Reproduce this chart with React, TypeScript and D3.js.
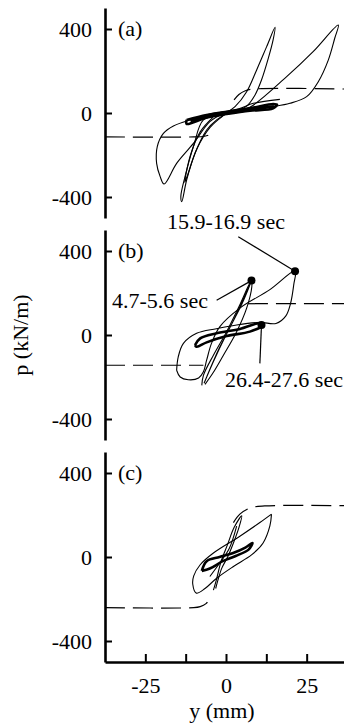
import React, { useRef, useEffect } from 'react';
import * as d3 from 'd3';

type Pt = [number, number];

const xTicks = [-25, -12.5, 0, 12.5, 25];
const yTicks = [-400, 0, 400];
const panelNames = ['(a)', '(b)', '(c)'];

// panel (a)  [y mm, p kN/m]
const aDashLow: Pt[] = [[-37.5, -114], [-10, -114], [-7, -112], [-5.5, -106]];
const aDashUp: Pt[] = [[2.5, 62], [4, 88], [6, 106], [8.5, 114], [37.5, 114]];
const aLoopLeft: Pt[] = [
  [-0.8, -2], [-6, -12], [-11.1, -33], [-16.3, -62], [-19.4, -97], [-21.3, -160], [-21.5, -240],
  [-20.4, -303], [-19.2, -338], [-15.3, -240], [-10.1, -145], [-5, -41], [-0.8, -2],
];
const aLoopLow: Pt[] = [
  [-2, -10], [-7, -33], [-10.1, -160], [-12.7, -303], [-14, -398], [-13.7, -422],
  [-12.2, -319], [-9.6, -192], [-6, -81], [-2.9, -33], [0, -5],
];
const aLoopLow2: Pt[] = [
  [-4, -20], [-8, -90], [-11, -200], [-12.8, -330], [-12, -300], [-9, -170], [-5, -70], [-1, -15],
];
const aLoopUp: Pt[] = [
  [0, 0], [2.8, 30], [6.4, 101], [9.5, 205], [12.6, 316], [15.2, 408],
  [14.6, 348], [13.1, 260], [11, 157], [9, 86], [6.4, 33], [3, 10],
];
const aLoopRight: Pt[] = [
  [4, 12], [7.4, 27], [18.8, 173], [27, 292], [34.8, 419], [33.7, 356], [31.7, 252],
  [28.6, 149], [25, 78], [19.8, 46], [15.7, 33],
];
const aBand: Pt[] = [
  [-12.2, -33], [-6, -10], [0.2, 6], [7.4, 22], [14.6, 43], [15.8, 40], [14.6, 22],
  [7.4, 11], [0.2, -5], [-6, -21], [-12.2, -52], [-12.2, -33],
];
const aBand2: Pt[] = [
  [-11, -38], [-5, -16], [1, 0], [8, 16], [15, 32], [8, 22], [1, 4], [-5, -8], [-11, -38],
];
const aSpur: Pt[] = [[-2, 2], [4, 20], [8.5, 46], [16.7, 65]];

// panel (b)
const bDashLow: Pt[] = [[-37.5, -144], [-7, -144]];
const bDashUp: Pt[] = [[6.8, 149], [37.5, 149]];
const bOuter: Pt[] = [
  [-15.3, -168], [-14.2, -200], [-11.7, -213], [-8.5, -205], [-7, -175], [-6, -120], [-4.5, -40],
  [-1.9, 40], [4.3, 128], [13.6, 216], [21.4, 304], [21, 240], [20, 150], [18.5, 90], [15.5, 55],
  [10.5, 60], [3.3, 48], [-3, 30], [-9.1, 8], [-13.2, -40], [-14.8, -104], [-15.3, -168],
];
const bLoopMid: Pt[] = [
  [-7.5, -240], [-7, -192], [-3.9, -96], [0.2, 16], [4.3, 144], [7.9, 259], [8, 230],
  [6.4, 128], [3.3, 16], [-0.8, -96], [-4, -180], [-6.5, -235],
];
const bLoopMid2: Pt[] = [
  [-6, -200], [-2, -60], [2, 60], [7.9, 259], [5, 150], [0, 0], [-4, -130], [-6.8, -230],
];
const bThick: Pt[] = [
  [-9.6, -48], [-8, -16], [-2.9, 8], [4.3, 29], [10.5, 56], [11.3, 45], [7.4, 16],
  [0.2, -5], [-6, -35], [-9.1, -56], [-9.6, -48],
];
const bDots: Pt[] = [[21.4, 304], [7.9, 259], [11, 48]];

// panel (c)
const cDashLow: Pt[] = [[-37.5, -241], [-10, -241], [-8, -236], [-6.2, -222], [-5, -198]];
const cDashUp: Pt[] = [[2.3, 164], [4.3, 204], [7.4, 233], [12, 243], [37.5, 244]];
const cOuter: Pt[] = [
  [14.1, 204], [13.6, 148], [11.5, 67], [8, 11], [2.3, -45], [-2.9, -101], [-6.5, -150],
  [-9.2, -172], [-10.3, -130], [-10, -90], [-8, -37], [-3.9, 19], [4.3, 99], [10.5, 164], [14.1, 204],
];
const cThick: Pt[] = [
  [-7.5, -66], [-6, -20], [-2, 0], [2, 18], [6, 45], [8.2, 67], [7, 35], [3, 5],
  [-1, -20], [-5, -55], [-7.5, -66],
];
const cCross: Pt[] = [
  [-3.9, -158], [-3, -110], [-1.5, -20], [0.5, 60], [2.5, 140], [4.9, 196], [4, 140],
  [2.3, 67], [0.5, 0], [-1.3, -53], [-2.5, -110], [-3.2, -150],
];
const cDiag: Pt[] = [[-5, -93], [-2, -30], [1, 40], [3.3, 147]];

const annoText = ['15.9-16.9 sec', '4.7-5.6 sec', '26.4-27.6 sec'];
const annoAt: Pt[] = [[0, 505], [-5.6, 130], [-0.3, -248]];
const annoFrom: Pt[] = [[3.8, 468], [-2.9, 165], [10.5, -135]];
const annoTo: Pt[] = [[21.4, 304], [7.9, 259], [11, 48]];

const App: React.FC = () => {
  const svgRef = useRef<SVGSVGElement | null>(null);

  useEffect(() => {
    const W = 344, H = 723;
    const font = "'Liberation Serif', 'Times New Roman', serif";
    const svg = d3.select(svgRef.current!).attr('width', W).attr('height', H);
    svg.selectAll('*').remove();

    const x = d3.scaleLinear().domain([-37.5, 37.5]).range([105, 347]);
    const ranges: [number, number][] = [[218, 8], [440, 230], [662, 452]];
    const ys = ranges.map((r) => d3.scaleLinear().domain([-500, 500]).range(r));

    const panels = [
      {
        thin: [aLoopLeft, aLoopLow, aLoopLow2, aLoopUp, aLoopRight, aSpur],
        thick: [aBand, aBand2],
        dash: [aDashLow, aDashUp],
      },
      {
        thin: [bOuter, bLoopMid, bLoopMid2],
        thick: [bThick],
        dash: [bDashLow, bDashUp],
      },
      {
        thin: [cOuter, cCross, cDiag],
        thick: [cThick],
        dash: [cDashLow, cDashUp],
      },
    ];

    panels.forEach((pnl, i) => {
      const y = ys[i];
      const g = svg.append('g');
      const line = d3.line<Pt>()
        .x((d) => x(d[0]))
        .y((d) => y(d[1]))
        .curve(d3.curveCatmullRom.alpha(0.5));

      pnl.dash.forEach((d) => {
        g.append('path').datum(d).attr('d', line).attr('fill', 'none')
          .attr('stroke', '#000').attr('stroke-width', 1.2).attr('stroke-dasharray', '20,8');
      });
      pnl.thin.forEach((d) => {
        g.append('path').datum(d).attr('d', line).attr('fill', 'none')
          .attr('stroke', '#000').attr('stroke-width', 1.1);
      });
      pnl.thick.forEach((d) => {
        g.append('path').datum(d).attr('d', line).attr('fill', 'none')
          .attr('stroke', '#000').attr('stroke-width', 2.6);
      });

      const ax = svg.append('g').attr('transform', 'translate(105,0)')
        .call(d3.axisLeft(y).tickValues(yTicks).tickSize(-7).tickSizeOuter(0).tickPadding(13)
          .tickFormat((d) => String(d)));
      ax.attr('font-family', font).attr('font-size', 22);
      ax.select('.domain').attr('stroke-width', 2.6);
      ax.selectAll('.tick line').attr('stroke-width', 2);
      ax.selectAll('.tick text').attr('fill', '#000');

      svg.append('text').attr('x', 118).attr('y', y(400)).attr('dy', '0.32em')
        .attr('font-family', font).attr('font-size', 22).text(panelNames[i]);
    });

    // annotations in panel (b)
    const yb = ys[1];
    bDots.forEach((d) => {
      svg.append('circle').attr('cx', x(d[0])).attr('cy', yb(d[1])).attr('r', 4).attr('fill', '#000');
    });
    const anchors = ['middle', 'end', 'start'];
    annoText.forEach((t, k) => {
      svg.append('line')
        .attr('x1', x(annoFrom[k][0])).attr('y1', yb(annoFrom[k][1]))
        .attr('x2', x(annoTo[k][0])).attr('y2', yb(annoTo[k][1]))
        .attr('stroke', '#000').attr('stroke-width', 1.2);
      svg.append('text').attr('x', x(annoAt[k][0])).attr('y', yb(annoAt[k][1]))
        .attr('text-anchor', anchors[k]).attr('font-family', font).attr('font-size', 22).text(t);
    });

    // x axis on bottom panel
    const xa = svg.append('g').attr('transform', `translate(0,${ranges[2][0]})`)
      .call(d3.axisBottom(x).tickValues(xTicks).tickSize(-8).tickSizeOuter(0).tickPadding(15)
        .tickFormat((d) => (Math.abs(+d) === 12.5 ? '' : String(d))));
    xa.attr('font-family', font).attr('font-size', 22);
    xa.select('.domain').attr('stroke-width', 2.6);
    xa.selectAll('.tick line').attr('stroke-width', 2);

    svg.append('text').attr('x', 222).attr('y', 718).attr('text-anchor', 'middle')
      .attr('font-family', font).attr('font-size', 22).text('y (mm)');
    svg.append('text').attr('transform', 'translate(28,335) rotate(-90)').attr('text-anchor', 'middle')
      .attr('font-family', font).attr('font-size', 22).text('p (kN/m)');
  }, []);

  return <svg ref={svgRef} style={{ position: 'absolute', left: 0, top: 0 }}></svg>;
};

export default App;
